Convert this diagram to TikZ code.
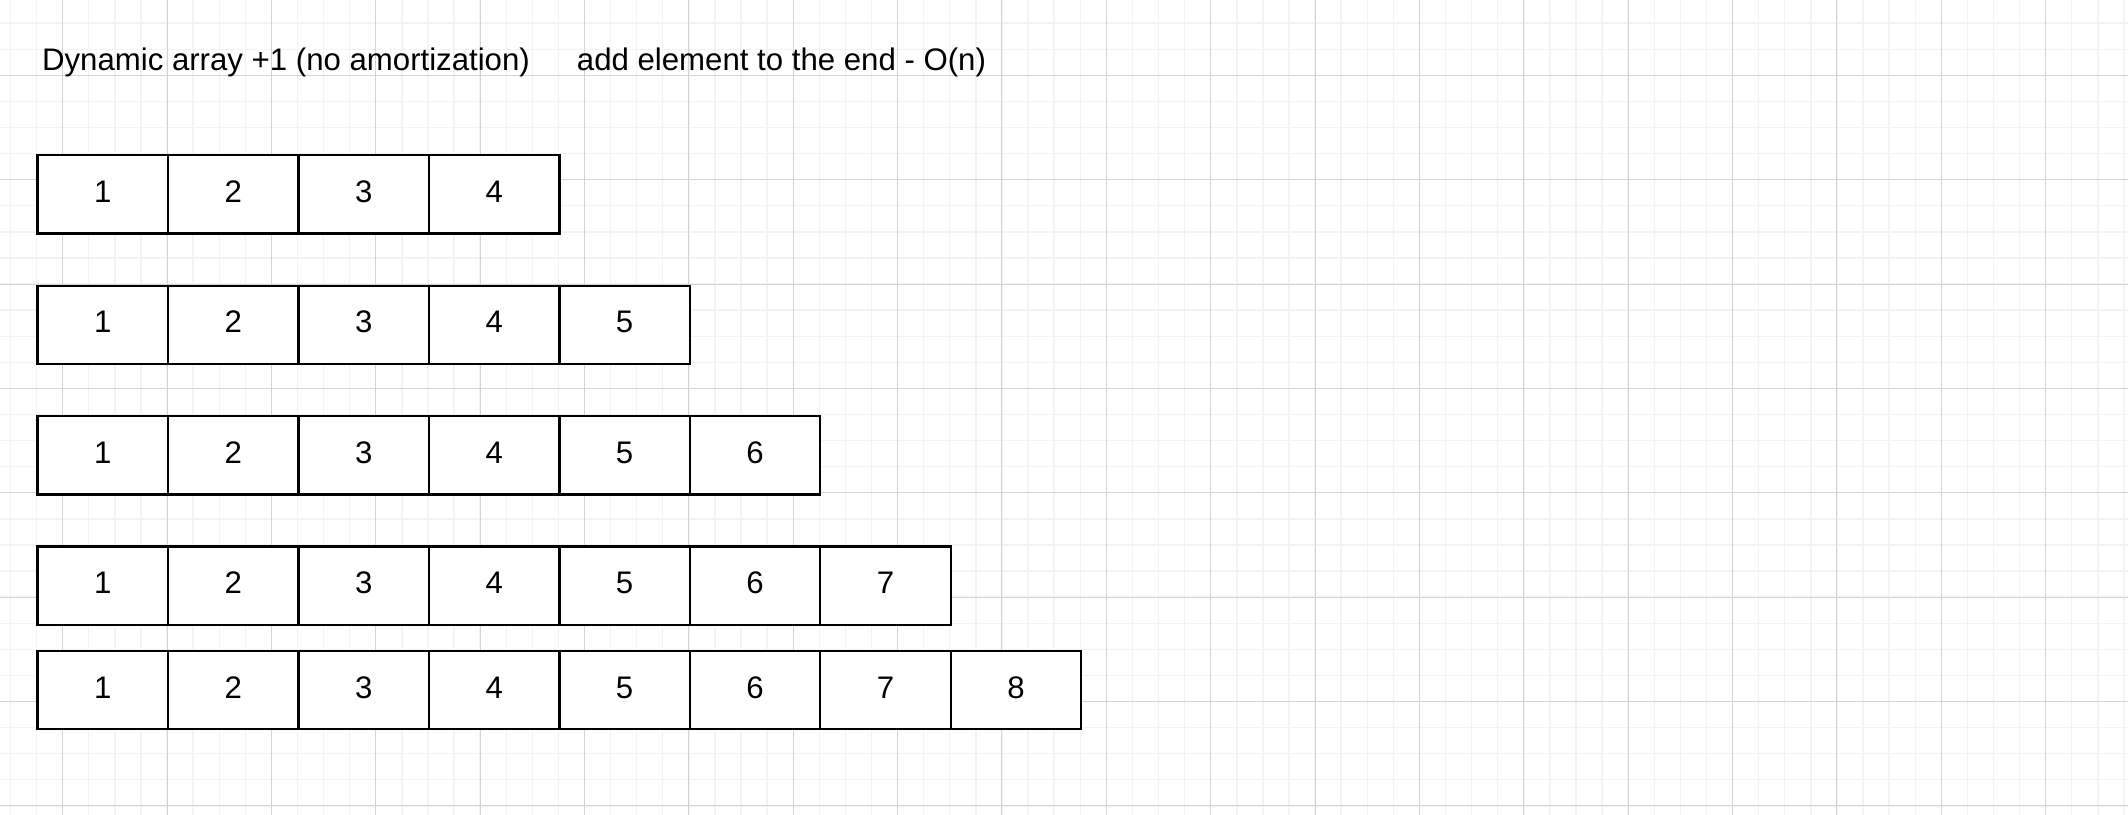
\documentclass[tikz,border=0pt]{standalone}
\usepackage{fontspec}
\setmainfont{Liberation Sans}
\usetikzlibrary{positioning}
\definecolor{gridmajor}{HTML}{D4D4D4}
\definecolor{gridminor}{HTML}{F3F3F3}
\begin{document}
\begin{tikzpicture}[x=5mm,y=5mm,node distance=0pt,
  cell/.style={draw,fill=white,line width=1.25pt,outer sep=0pt,inner sep=0pt,
    minimum width=25mm,minimum height=15mm,text depth=3pt,
    font=\fontsize{17}{20.4}\selectfont},
  caption/.style={inner sep=0pt,anchor=base west,font=\fontsize{17}{20.4}\selectfont}]
\clip (0,0) rectangle (81.56,31.20);
\fill[white] (0,0) rectangle (81.56,31.20);
% background grid
\draw[gridminor,line width=0.75pt,shift={(0.403,0.314)}] (-1,-1) grid[step=1] (82,32);
\draw[gridmajor,line width=0.55pt,shift={(2.403,0.314)}] (-4,-4) grid[step=4] (80,32);
% headings
\node[caption] (title) at (1.60,28.49) {Dynamic array +1 (no amortization)};
\node[caption] (cost) at (22.1,28.49) {add element to the end - O(n)};
% array of 4
\node[cell] (a1) at (3.94,23.75) {1};
\node[cell,right=of a1] (a2) {2};
\node[cell,right=of a2] (a3) {3};
\node[cell,right=of a3] (a4) {4};
% array of 5
\node[cell] (b1) at (3.94,18.75) {1};
\node[cell,right=of b1] (b2) {2};
\node[cell,right=of b2] (b3) {3};
\node[cell,right=of b3] (b4) {4};
\node[cell,right=of b4] (b5) {5};
% array of 6
\node[cell] (c1) at (3.94,13.75) {1};
\node[cell,right=of c1] (c2) {2};
\node[cell,right=of c2] (c3) {3};
\node[cell,right=of c3] (c4) {4};
\node[cell,right=of c4] (c5) {5};
\node[cell,right=of c5] (c6) {6};
% array of 7
\node[cell] (d1) at (3.94,8.75) {1};
\node[cell,right=of d1] (d2) {2};
\node[cell,right=of d2] (d3) {3};
\node[cell,right=of d3] (d4) {4};
\node[cell,right=of d4] (d5) {5};
\node[cell,right=of d5] (d6) {6};
\node[cell,right=of d6] (d7) {7};
% array of 8
\node[cell] (e1) at (3.94,4.75) {1};
\node[cell,right=of e1] (e2) {2};
\node[cell,right=of e2] (e3) {3};
\node[cell,right=of e3] (e4) {4};
\node[cell,right=of e4] (e5) {5};
\node[cell,right=of e5] (e6) {6};
\node[cell,right=of e6] (e7) {7};
\node[cell,right=of e7] (e8) {8};
\end{tikzpicture}
\end{document}
